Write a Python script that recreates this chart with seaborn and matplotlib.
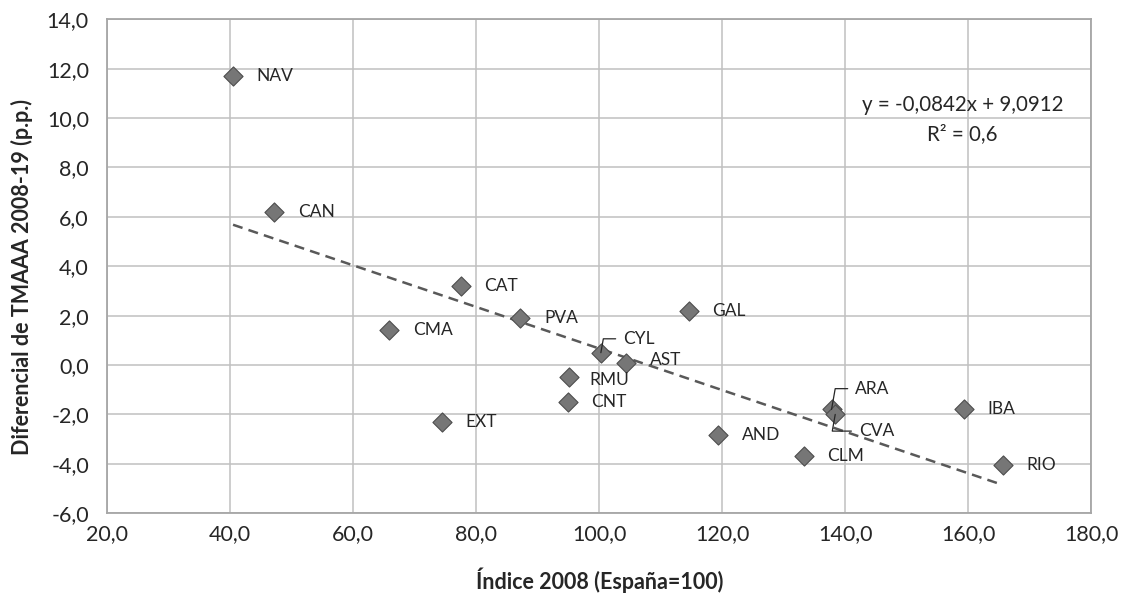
import matplotlib
matplotlib.use("Agg")
import matplotlib.pyplot as plt
import matplotlib.ticker as mticker
import numpy as np
import pandas as pd
import seaborn as sns

# Regional data: 2008 index (Spain = 100) vs. growth differential 2008-19
regions = ["NAV", "CAN", "CAT", "PVA", "CMA", "CYL", "AST", "RMU", "CNT", "EXT",
           "GAL", "AND", "ARA", "CVA", "CLM", "IBA", "RIO"]
indice_2008 = [40.5, 47.2, 77.5, 87.2, 65.9, 100.3, 104.4, 95.1, 94.9, 74.4,
               114.6, 119.4, 137.8, 138.4, 133.3, 159.3, 165.6]
diferencial = [11.7, 6.2, 3.2, 1.9, 1.4, 0.5, 0.1, -0.5, -1.5, -2.3,
               2.2, -2.85, -1.8, -2.0, -3.7, -1.8, -4.05]

# Linear trend (as reported)
slope = -0.0842
intercept = 9.0912
r_squared = 0.6

x_ticks = [20, 40, 60, 80, 100, 120, 140, 160, 180]
y_ticks = [-6, -4, -2, 0, 2, 4, 6, 8, 10, 12, 14]

df = pd.DataFrame({"region": regions, "x": indice_2008, "y": diferencial})

sns.set_theme(style="white")
plt.rcParams["font.family"] = ["Lato", "DejaVu Sans"]

fig = plt.figure(figsize=(11.26, 5.94), dpi=100)
ax = fig.add_axes([0.095, 0.136, 0.874, 0.8315])

txt_c = "#262626"
ax.set_xlim(20, 180)
ax.set_ylim(-6, 14)
ax.set_xticks(x_ticks)
ax.set_yticks(y_ticks)
fmt = mticker.FuncFormatter(lambda v, p: f"{v:.1f}".replace(".", ","))
ax.xaxis.set_major_formatter(fmt)
ax.yaxis.set_major_formatter(fmt)
ax.grid(True, color="#c0c0c0", linewidth=1.1)
ax.set_axisbelow(True)
for s in ax.spines.values():
    s.set_color("#a6a6a6")
    s.set_linewidth(1.3)
ax.tick_params(axis="both", length=0, labelsize=15.5, colors=txt_c)
ax.tick_params(axis="x", pad=8)
ax.tick_params(axis="y", pad=13)

# Trend line over the data range
xs = np.array([min(indice_2008), max(indice_2008)])
sns.lineplot(x=xs, y=slope * xs + intercept, ax=ax, color="#595959",
             linestyle=(0, (4, 2.5)), linewidth=1.8, zorder=2)

sns.scatterplot(data=df, x="x", y="y", ax=ax, marker="D", s=95,
                color="#767676", edgecolor="#4d4d4d", linewidth=0.8, zorder=3)

# Point labels
offsets = {r: (17, 0) for r in regions}
offsets["RMU"] = (15, -2)
offsets["AST"] = (17, 1.5)
leaders = {"CYL": (16, 10), "ARA": (17, 15), "CVA": (17, -12)}
for r, x, y in zip(regions, indice_2008, diferencial):
    if r in leaders:
        dx, dy = leaders[r]
        ax.annotate(r, xy=(x, y), xytext=(dx, dy), textcoords="offset points",
                    fontsize=12.5, color=txt_c, va="center", ha="left",
                    arrowprops=dict(arrowstyle="-", color=txt_c, lw=0.9,
                                    shrinkA=3, shrinkB=0,
                                    connectionstyle="angle,angleA=0,angleB=80,rad=0"))
    else:
        dx, dy = offsets[r]
        ax.annotate(r, xy=(x, y), xytext=(dx, dy),
                    textcoords="offset points", fontsize=12.5, color=txt_c,
                    va="center", ha="left")

eq = f"y = {slope:.4f}x + {intercept:.4f}".replace(".", ",")
ax.text(0.9715, 0.8255, eq, transform=ax.transAxes, ha="right", va="center",
        fontsize=14.8, color=txt_c)
ax.text(0.8687, 0.7675, f"R² = {r_squared:.1f}".replace(".", ","),
        transform=ax.transAxes, ha="center", va="center", fontsize=14.8,
        color=txt_c)

ax.set_xlabel("Índice 2008 (España=100)", fontsize=15.5, fontweight="bold",
              color=txt_c)
ax.set_ylabel("Diferencial de TMAAA 2008-19 (p.p.)", fontsize=15.5,
              fontweight="bold", color=txt_c)
ax.xaxis.label.set_va("center")
ax.yaxis.label.set_va("center")
ax.xaxis.set_label_coords(0.501, -0.136)
ax.yaxis.set_label_coords(-0.0865, 0.478)

fig.savefig("out.png", dpi=100, facecolor="white")
